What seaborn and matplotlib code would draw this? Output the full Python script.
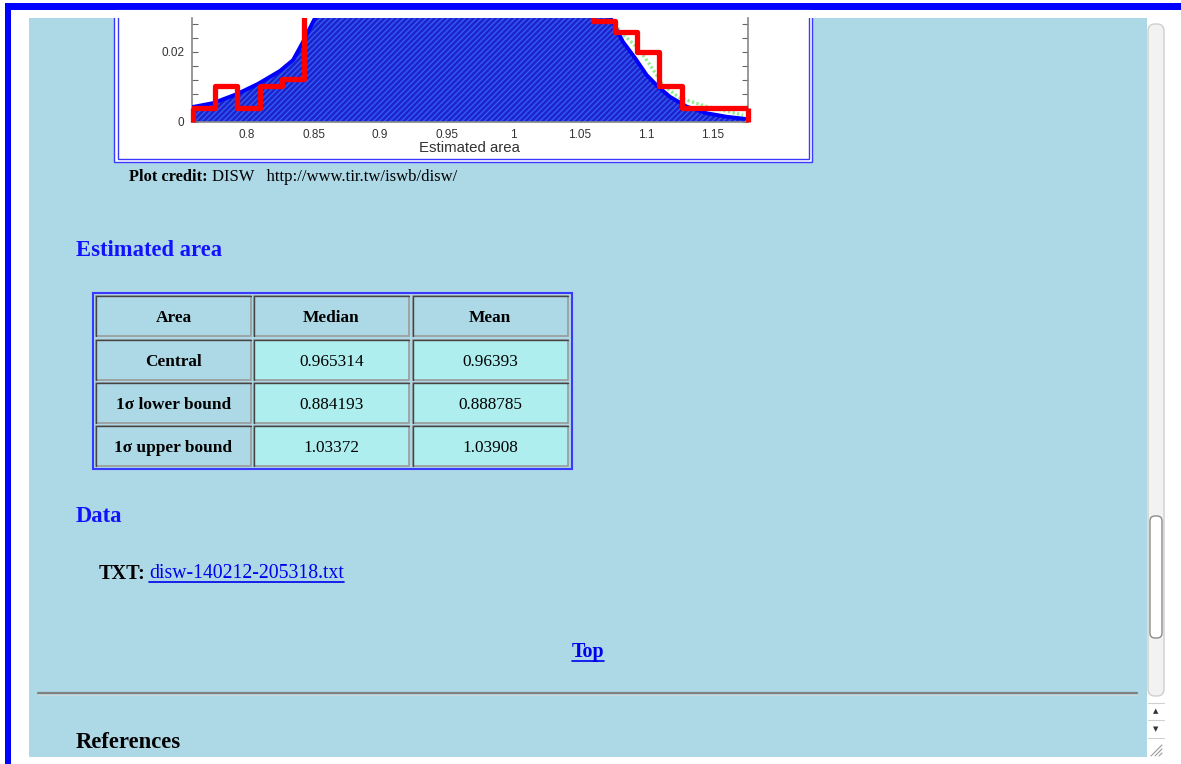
import numpy as np
import matplotlib
matplotlib.use("Agg")
import matplotlib.pyplot as plt
import seaborn as sns
from matplotlib.patches import Rectangle, FancyBboxPatch

# --- donnees ---
bin_edges = [0.7594, 0.7761, 0.7928, 0.8094, 0.8261, 0.8428, 0.8595, 0.8762, 0.8928,
             0.9095, 0.9262, 0.9429, 0.9596, 0.9762, 0.9929, 1.0096, 1.0263, 1.0430,
             1.0596, 1.0763, 1.0930, 1.1097, 1.1264, 1.1430, 1.1597, 1.1764]
bin_probs = [0.0041, 0.0102, 0.0041, 0.0102, 0.0122, 0.036, 0.045, 0.055, 0.066,
             0.074, 0.082, 0.086, 0.088, 0.085, 0.078, 0.068, 0.056, 0.042,
             0.0289, 0.0258, 0.020, 0.0102, 0.0041, 0.0041, 0.0041]

density_x = [0.7594, 0.7745, 0.7925, 0.8083, 0.8248, 0.8346, 0.8421, 0.8496, 0.8571,
             0.87, 0.885, 0.9, 0.915, 0.93, 0.945, 0.96, 0.975, 0.99, 1.005, 1.02,
             1.035, 1.05, 1.062, 1.0739, 1.0824, 1.0914, 1.1002, 1.1087, 1.1177,
             1.1302, 1.1453, 1.1603, 1.1741]
density_y = [0.0043, 0.0054, 0.0080, 0.0109, 0.0146, 0.0177, 0.0229, 0.0286, 0.034,
             0.044, 0.055, 0.065, 0.074, 0.081, 0.086, 0.088, 0.087, 0.084, 0.078, 0.070,
             0.060, 0.048, 0.038, 0.0291, 0.0229, 0.0183, 0.0134, 0.0101, 0.0072,
             0.0044, 0.0025, 0.0015, 0.0009]

fit_x = [0.7594, 0.7745, 0.7925, 0.8083, 0.8248, 0.8346, 0.8421, 0.8496, 0.86, 0.9,
         0.96, 1.02, 1.06, 1.0802, 1.0937, 1.1027, 1.1125, 1.125, 1.1453, 1.1726]
fit_y = [0.0036, 0.0046, 0.0066, 0.0094, 0.0130, 0.0158, 0.0190, 0.0235, 0.031, 0.060,
         0.085, 0.070, 0.040, 0.0258, 0.0211, 0.0163, 0.0105, 0.0069, 0.0044, 0.0020]

x_ticks = [0.8, 0.85, 0.9, 0.95, 1.0, 1.05, 1.1, 1.15]
x_tick_labels = ['0.8', '0.85', '0.9', '0.95', '1', '1.05', '1.1', '1.15']
y_ticks = [0, 0.02]
y_tick_labels = ['0', '0.02']

table_header = ['Area', 'Median', 'Mean']
table_rows = ['Central', '1σ lower bound', '1σ upper bound']
table_median = ['0.965314', '0.884193', '1.03372']
table_mean = ['0.96393', '0.888785', '1.03908']

W, H = 1181, 764
sns.set_style("white")
plt.rcParams['font.family'] = ['Liberation Serif', 'DejaVu Serif']
plt.rcParams['text.color'] = 'black'
plt.rcParams['hatch.linewidth'] = 1.0

fig = plt.figure(figsize=(W / 100, H / 100), dpi=100)
fig.patch.set_facecolor('white')

# page (coordonnees en pixels)
page = fig.add_axes([0, 0, 1, 1])
page.set_xlim(0, W)
page.set_ylim(H, 0)
page.axis('off')

page.add_patch(Rectangle((5, 3), W - 5, 6.5, color='#0000ff', lw=0))
page.add_patch(Rectangle((5, 3), 6, H - 3, color='#0000ff', lw=0))
page.add_patch(Rectangle((29, 18), 1147 - 29, 757 - 18, color='#add8e6', lw=0))

# cadre du graphique
page.add_patch(Rectangle((114, 10), 698, 152, facecolor='white', edgecolor='#3a3aff', lw=1.0))
page.add_patch(Rectangle((117.5, 10), 691, 148.5, facecolor='none', edgecolor='#3a3aff', lw=1.0))
page.add_patch(Rectangle((29, 9.5), 1147 - 29, 8.5, color='white', lw=0))

# graphique
y0_px, y02_px = 122, 52
px_per_unit = (y0_px - y02_px) / 0.02
ax_left, ax_right, ax_top = 191.5, 747.5, 18
x_per_px = 0.05 / ((713 - 247) / 7)
ax = fig.add_axes([ax_left / W, 1 - y0_px / H, (ax_right - ax_left) / W, (y0_px - ax_top) / H])
ax.set_xlim(0.8 - (247 - ax_left) * x_per_px, 0.8 + (ax_right - 247) * x_per_px)
ax.set_ylim(0, (y0_px - ax_top) / px_per_unit)

sns.lineplot(x=fit_x, y=fit_y, color='#90ee90', linestyle=(0, (0.7, 0.7)), linewidth=2.4, ax=ax, zorder=1.5)
ax.fill_between(density_x, density_y, facecolor='#0a12cc', edgecolor='#3560f2',
                hatch='//////', linewidth=0, zorder=2, alpha=0.93)
sns.lineplot(x=density_x, y=density_y, color='#0000ff', linewidth=2.8, ax=ax, zorder=3)

centers = [(a + b) / 2 for a, b in zip(bin_edges[:-1], bin_edges[1:])]
sns.histplot(x=centers, weights=bin_probs, bins=bin_edges, element='step', fill=False,
             color='#ff0000', linewidth=3.8, ax=ax, zorder=4)
ax.vlines([bin_edges[0], bin_edges[-1]], 0, [bin_probs[0], bin_probs[-1]],
          color='#ff0000', linewidth=3.8, zorder=4, clip_on=False)

ax.set_facecolor('none')
ax.set_xticks(x_ticks)
ax.set_xticklabels(x_tick_labels)
ax.set_yticks(y_ticks)
ax.set_yticklabels(y_tick_labels)
ax.set_yticks(np.arange(0, 0.03, 0.004), minor=True)
ax.tick_params(axis='both', which='both', direction='in', colors='#666666',
               labelcolor='#333333', labelsize=8.5, length=4, width=0.8)
ax.tick_params(axis='y', which='both', right=True, left=True, pad=5)
ax.tick_params(axis='x', which='both', top=False, bottom=True, pad=5)
for lab in ax.get_xticklabels() + ax.get_yticklabels():
    lab.set_family('Liberation Sans')
ax.set_xlabel('Estimated area', fontsize=10.8, color='#333333', family='Liberation Sans', labelpad=0)
ax.set_ylabel('')
ax.spines['top'].set_visible(False)
for s in ['left', 'right', 'bottom']:
    ax.spines[s].set_color('#888888')
    ax.spines[s].set_linewidth(1.2)

# textes
page.text(129, 177, 'Plot credit:', fontsize=11.8, fontweight='bold', va='center', ha='left')
page.text(212, 177, 'DISW   http://www.tir.tw/iswb/disw/', fontsize=12, va='center', ha='left')
page.text(76, 251, 'Estimated area', fontsize=16.3, fontweight='bold', color='#1212ff', va='center')
page.text(76, 516, 'Data', fontsize=16.3, fontweight='bold', color='#1212ff', va='center')
page.text(99, 574, 'TXT:', fontsize=14.6, fontweight='bold', va='center')
link = page.text(149, 574, 'disw-140212-205318.txt', fontsize=14.2, color='#0000ee', va='center')
top = page.text(588, 652, 'Top', fontsize=14.4, fontweight='bold', color='#0000ee', va='center', ha='center')
page.text(76, 742, 'References', fontsize=16.3, fontweight='bold', va='center')
page.plot([38, 1137], [693, 693], color='#808080', lw=1.6)
page.plot([38, 1137], [694.5, 694.5], color='#d8d8d8', lw=0.6)

# tableau
col_x = [96, 254, 412.5]
col_w = [155, 155, 155.5]
row_y = [296, 339.5, 383, 426]
row_h = 40
page.add_patch(Rectangle((93, 293), 478.5, 176, facecolor='none', edgecolor='#3a3aff', lw=1.5))
cells = [table_header] + [[r, m, n] for r, m, n in zip(table_rows, table_median, table_mean)]
for i, row in enumerate(cells):
    for j, val in enumerate(row):
        fc = '#add8e6' if (i == 0 or j == 0) else '#afeeee'
        x, y = col_x[j], row_y[i]
        page.add_patch(Rectangle((x, y), col_w[j], row_h, facecolor=fc, edgecolor='#9a9a9a', lw=1.2))
        page.plot([x, x, x + col_w[j]], [y + row_h, y, y], color='#444444', lw=1.0)
        bold = (i == 0 or j == 0)
        page.text(x + col_w[j] / 2, y + row_h / 2 + 2, val, fontsize=12.4,
                  fontweight='bold' if bold else 'normal', ha='center', va='center')

# barre de defilement
page.add_patch(Rectangle((1147, 10), W - 1147, H - 10, color='white', lw=0))
page.add_patch(FancyBboxPatch((1150, 26), 12, 668, boxstyle='round,pad=2,rounding_size=7',
                              facecolor='#f2f2f2', edgecolor='#cfcfcf', lw=1.0))
page.add_patch(FancyBboxPatch((1152, 518), 8, 118, boxstyle='round,pad=2,rounding_size=5',
                              facecolor='white', edgecolor='#8c8c8c', lw=1.0))
page.plot([1148, 1164], [703, 703], color='#d0d0d0', lw=0.8)
page.plot([1148, 1164], [720, 720], color='#d0d0d0', lw=0.8)
page.plot([1148, 1164], [738, 738], color='#d0d0d0', lw=0.8)
page.text(1156, 711, '▲', fontsize=5, ha='center', va='center', color='#333333', family='DejaVu Sans')
page.text(1156, 729, '▼', fontsize=5, ha='center', va='center', color='#333333', family='DejaVu Sans')
for k in range(3):
    page.plot([1151 + 4 * k, 1162], [756, 745 + 4 * k], color='#9a9a9a', lw=0.8)

# soulignements des liens
fig.canvas.draw()
inv = page.transData.inverted()
for t in [link, top]:
    bb = t.get_window_extent()
    (xa, ya), (xb, yb) = inv.transform([[bb.x0, bb.y0], [bb.x1, bb.y1]])
    page.plot([xa, xb], [ya - 1.5, ya - 1.5], color=t.get_color(), lw=1.2)

fig.savefig('out.png', dpi=100)
